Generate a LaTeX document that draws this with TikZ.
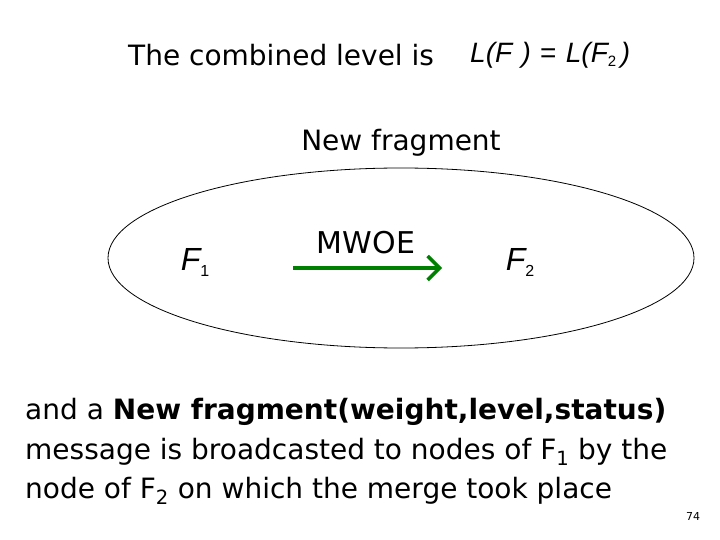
\documentclass[tikz,border=0pt]{standalone}
\usepackage{fontspec}
\usetikzlibrary{arrows.meta}
\setmainfont{DejaVu Sans}
\newfontfamily\mathf{Liberation Sans}
\begin{document}
\begin{tikzpicture}[x=1pt,y=-1pt,
  txt/.style={inner sep=0pt,font=\fontsize{28}{32}\selectfont},
  mth/.style={inner sep=0pt,font=\fontsize{28}{32}\mathf\itshape}]
\useasboundingbox (0,0) rectangle (720,540);
\node[txt,anchor=west] (t1) at (128,55) {The combined level is};
\node[mth,anchor=west] (t2) at (470,55) {L(F\,\,)\,\,{\upshape =}\,\,L(F{\upshape\fontsize{15}{15}\selectfont\raisebox{-4pt}{2}}\,)};
\node[txt] (nf) at (401,143) {New fragment};
\draw[line width=0.8pt] (401,258) ellipse [x radius=293, y radius=90];
\node[mth,font=\fontsize{32}{32}\mathf\itshape] (f1) at (195,262) {F{\upshape\fontsize{16}{16}\selectfont\raisebox{-6pt}{1}}};
\node[mth,font=\fontsize{32}{32}\mathf\itshape] (f2) at (520,262) {F{\upshape\fontsize{16}{16}\selectfont\raisebox{-6pt}{2}}};
\node[txt,font=\fontsize{30}{32}\selectfont] (mw) at (366,243) {MWOE};
\coordinate (a1) at (293,268);
\coordinate (a2) at (442,268);
\draw[green!50!black,line width=3.5pt,-{Straight Barb[length=12pt,width=24pt]}] (a1) -- (a2);
\node[txt,anchor=west] (l1) at (25,412) {and a \textbf{New fragment(weight,level,status)}};
\node[txt,anchor=west] (l2) at (25,452) {message is broadcasted to nodes of F\textsubscript{1} by the};
\node[txt,anchor=west] (l3) at (25,491) {node of F\textsubscript{2} on which the merge took place};
\node[inner sep=0pt,font=\fontsize{11}{11}\selectfont] (pg) at (693,516) {74};
\end{tikzpicture}
\end{document}
